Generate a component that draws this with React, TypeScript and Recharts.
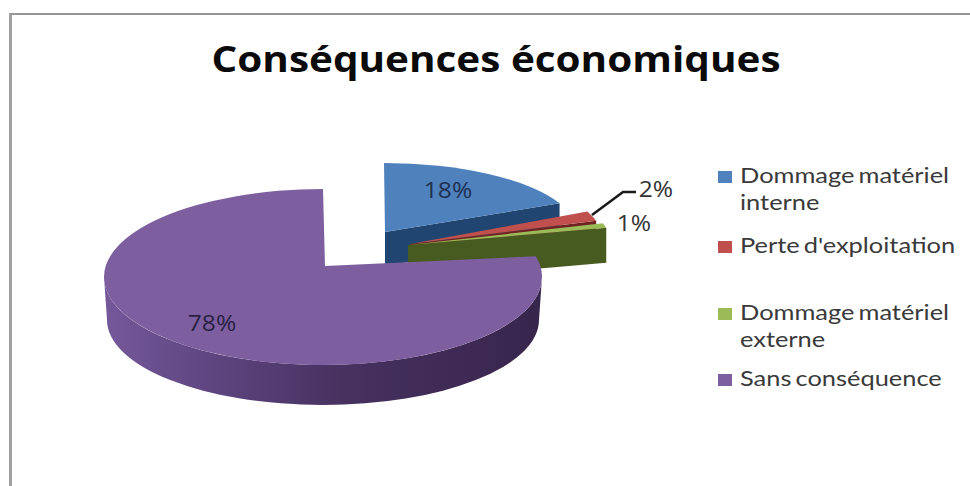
import React from 'react';
import { PieChart, Pie, Legend } from 'recharts';

const categories = ['Dommage matériel interne', "Perte d'exploitation", 'Dommage matériel externe', 'Sans conséquence'];
const shares = [18, 2, 1, 78];

const topColors = ['#4f81bd', '#c0504d', '#9bbb59', '#7d5f9f'];
const sideColors = ['#1f4570', '#6e2422', '#475a1f', 'url(#purpleWall)'];

const chartData = categories.map((name, i) => ({ name, value: shares[i], fill: topColors[i] }));

const WIDTH = 970;
const HEIGHT = 486;
const PIE_CX = 325;
const PIE_CY = 266;
const TEXT_STRETCH = 1.17;
const LEGEND_STRETCH = 1.21;

// how each slice sits in the tilted pie: apex shift, ellipse centre relative to apex, radii, wall depth
const sliceLayout = [
  { dx: 60, dy: -34, ox: -1, oy: 0, rx: 193, ry: 69, depth: 34 },
  { dx: 85, dy: -22, ox: 0, oy: 0, rx: 195, ry: 78, depth: 34 },
  { dx: 83, dy: -21, ox: 0, oy: 0, rx: 204, ry: 73, depth: 35 },
  { dx: 0, dy: 0, ox: -2, oy: 11, rx: 219, ry: 88, depth: 43 },
];

// label anchor relative to the slice apex
const labelOffsets = [
  { x: 63, y: -42 },
  { x: 246, y: -55 },
  { x: 226, y: -22 },
  { x: -113, y: 57 },
];

const rowTops = [161, 231, 298, 364];

const toRad = (deg: number) => (deg * Math.PI) / 180;

function ellipsePoint(x: number, y: number, rx: number, ry: number, theta: number) {
  return [x + rx * Math.sin(toRad(theta)), y - ry * Math.cos(toRad(theta))];
}

function arcPath(x: number, y: number, rx: number, ry: number, from: number, to: number, reverse = false) {
  const [ex, ey] = ellipsePoint(x, y, rx, ry, reverse ? from : to);
  const large = Math.abs(to - from) > 180 ? 1 : 0;
  return `A ${rx} ${ry} 0 ${large} ${reverse ? 0 : 1} ${ex} ${ey}`;
}

function Slice3D(props: any) {
  const { cx, cy, startAngle, endAngle, index, fill } = props;
  const s = sliceLayout[index];
  const ax = cx + s.dx;
  const ay = cy + s.dy;
  const ex = ax + s.ox;
  const ey = ay + s.oy;
  // Recharts angles run counter-clockwise from 3 o'clock; these run clockwise from 12
  const from = 90 - startAngle;
  const to = 90 - endAngle;
  const [sx, sy] = ellipsePoint(ex, ey, s.rx, s.ry, from);
  const [tx, ty] = ellipsePoint(ex, ey, s.rx, s.ry, to);
  const top = `M ${ax} ${ay} L ${sx} ${sy} ${arcPath(ex, ey, s.rx, s.ry, from, to)} Z`;

  const wallFrom = Math.max(from, 90);
  const wallTo = Math.min(to, 270);
  const wall = wallTo > wallFrom
    ? (() => {
        const [wx, wy] = ellipsePoint(ex, ey, s.rx, s.ry, wallFrom);
        const [bx, by] = ellipsePoint(ex, ey + s.depth, s.rx - 3, s.ry - 3, wallTo);
        return `M ${wx} ${wy} ${arcPath(ex, ey, s.rx, s.ry, wallFrom, wallTo)} L ${bx} ${by} ${arcPath(ex, ey + s.depth, s.rx - 3, s.ry - 3, wallFrom, wallTo, true)} Z`;
      })()
    : null;
  const cut = to < 180
    ? `M ${ax} ${ay} L ${tx} ${ty} L ${tx} ${ty + s.depth} L ${ax} ${ay + s.depth} Z`
    : null;

  return (
    <g>
      {cut && <path d={cut} fill={sideColors[index]} />}
      {wall && <path d={wall} fill={sideColors[index]} />}
      <path d={top} fill={fill} />
    </g>
  );
}

function SliceLabel(props: any) {
  const { cx, cy, index, value } = props;
  const s = sliceLayout[index];
  const o = labelOffsets[index];
  const x = cx + s.dx + o.x;
  const y = cy + s.dy + o.y;
  return (
    <g>
      {index === 1 && (
        <polyline points={`${x - 64},${y + 26} ${x - 33},${y + 3} ${x - 20},${y + 3}`} fill="none" stroke="#1a1a1a" strokeWidth={2.5} />
      )}
      <text
        transform={`translate(${x} ${y}) scale(${TEXT_STRETCH} 1)`}
        textAnchor="middle"
        dominantBaseline="central"
        fontFamily="'Open Sans', sans-serif"
        fontSize={21}
        fill={index === 1 || index === 2 ? '#333' : index === 0 ? '#1f3050' : '#2a1f45'}
      >
        {`${value}%`}
      </text>
    </g>
  );
}

function LegendList({ payload }: any) {
  return (
    <div style={{ position: 'relative', width: 250, height: 260 }}>
      {(payload || []).map((item: any, i: number) => (
        <div key={item.value} style={{ position: 'absolute', left: 0, top: rowTops[i] - rowTops[0], width: 250 }}>
          <span style={{ position: 'absolute', left: 0, top: 10, width: 14, height: 12, background: topColors[i] }} />
          <span
            style={{
              position: 'absolute',
              left: 22,
              top: 0,
              width: 185,
              transform: `scaleX(${LEGEND_STRETCH})`,
              transformOrigin: 'left top',
              fontFamily: 'Lato, sans-serif',
              fontSize: 21,
              lineHeight: '27px',
              color: '#3a3a3a',
              wordSpacing: -2,
            }}
          >
            {item.value}
          </span>
        </div>
      ))}
    </div>
  );
}

export default function App() {
  return (
    <div style={{ position: 'absolute', left: 0, top: 0, width: WIDTH, height: HEIGHT, background: '#fff', overflow: 'hidden' }}>
      <div
        style={{
          position: 'absolute',
          left: 9,
          top: 13,
          width: 980,
          height: 490,
          borderTop: '2px solid #969696',
          borderLeft: '3px solid #a0a0a0',
          boxSizing: 'border-box',
        }}
      />
      <PieChart width={WIDTH} height={HEIGHT} margin={{ top: 0, right: 0, bottom: 0, left: 0 }}>
        <defs>
          <linearGradient id="purpleWall" gradientUnits="userSpaceOnUse" x1={103} y1={0} x2={541} y2={0}>
            <stop offset="0" stopColor="#75589a" />
            <stop offset="0.25" stopColor="#5e4580" />
            <stop offset="0.55" stopColor="#46315f" />
            <stop offset="1" stopColor="#38254c" />
          </linearGradient>
        </defs>
        <text
          transform={`translate(496 58) scale(1.124 1)`}
          textAnchor="middle"
          dominantBaseline="central"
          fontFamily="'Open Sans', sans-serif"
          fontWeight={700}
          fontSize={36}
          fill="#0a0a0a"
        >
          Conséquences économiques
        </text>
        <Pie
          data={chartData}
          dataKey="value"
          nameKey="name"
          cx={PIE_CX}
          cy={PIE_CY}
          outerRadius={219}
          startAngle={90}
          endAngle={-270}
          stroke="none"
          shape={Slice3D}
          label={SliceLabel}
          labelLine={false}
          isAnimationActive={false}
        />
        <Legend
          content={LegendList}
          layout="vertical"
          verticalAlign="top"
          align="right"
          itemSorter={null}
          wrapperStyle={{ left: 718, top: rowTops[0], width: 250 }}
        />
      </PieChart>
    </div>
  );
}
